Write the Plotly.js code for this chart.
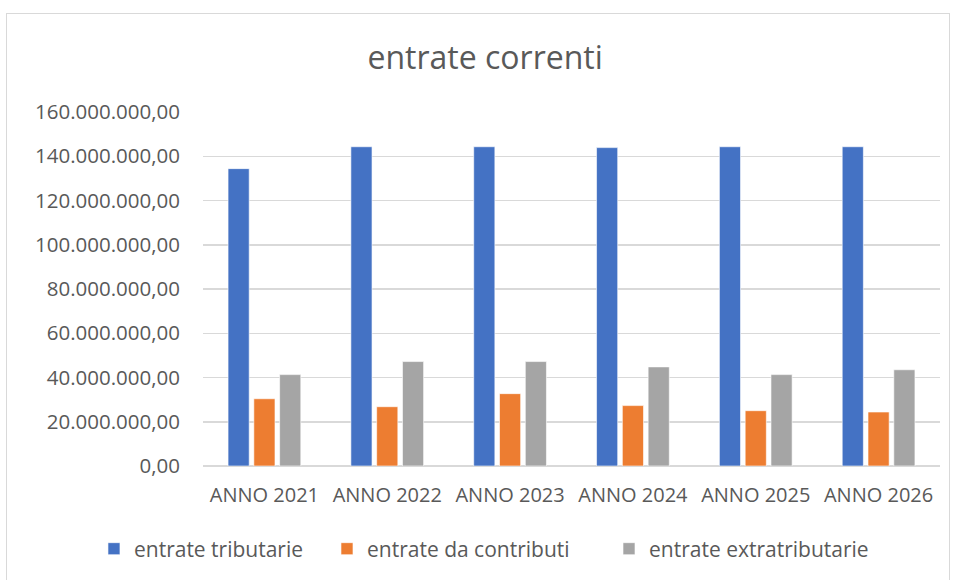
<!DOCTYPE html>
<html>
<head>
<meta charset="utf-8">
<script src="https://cdn.plot.ly/plotly-3.0.1.min.js"></script>
<style>
html,body{margin:0;padding:0;background:#fff;}
#frame{position:absolute;left:6px;top:13px;width:944px;height:580px;border:1.5px solid #d9d9d9;box-sizing:border-box;}
#chart{position:absolute;left:0;top:0;width:955px;height:580px;}
</style>
</head>
<body>
<div id="frame"></div>
<div id="chart"></div>
<script>
const categories = ["ANNO 2021","ANNO 2022","ANNO 2023","ANNO 2024","ANNO 2025","ANNO 2026"];
const tributarie = [134400000,144300000,144300000,143900000,144300000,144300000];
const contributi = [30400000,26800000,32700000,27300000,25000000,24400000];
const extratributarie = [41300000,47200000,47200000,44800000,41300000,43500000];
const seriesNames = ["entrate tributarie","entrate da contributi","entrate extratributarie"];
const tickVals = [0,20000000,40000000,60000000,80000000,100000000,120000000,140000000,160000000];

const colors = ["#4472C4","#ED7D31","#A5A5A5"];
const dataSets = [tributarie, contributi, extratributarie];
const legendIds = ['legend','legend2','legend3'];
const legendX = [0.0984, 0.3424, 0.6377];
const traces = dataSets.map((d,i)=>({
  type:'bar', x:categories, y:d, name:seriesNames[i], legend:legendIds[i],
  marker:{color:colors[i], line:{color:'rgba(255,255,255,0.6)', width:1}},
  hoverinfo:'skip'
}));

const layout = {
  width:955, height:580,
  paper_bgcolor:'rgba(0,0,0,0)', plot_bgcolor:'rgba(0,0,0,0)',
  separators:',.',
  margin:{l:203, r:15, t:112, b:114, autoexpand:false},
  font:{family:'"Open Sans", sans-serif', color:'#595959'},
  title:{text:'entrate correnti', x:0.508, xanchor:'center', y:0.9, yanchor:'middle', yref:'container',
         font:{size:32, color:'#595959', family:'"Open Sans", sans-serif'}},
  barmode:'group', bargap:0.37, bargroupgap:0.18,
  xaxis:{type:'category', showgrid:false, zeroline:false, showline:false, ticks:'',
         tickfont:{size:20, color:'#595959'}, ticklabelstandoff:15},
  yaxis:{range:[0,160000000], tickvals:tickVals, tickformat:',.2f', showgrid:true, gridcolor:'#d9d9d9', gridwidth:1.5,
         zeroline:true, zerolinecolor:'#d9d9d9', zerolinewidth:1.5, showline:false, ticks:'',
         tickfont:{size:20.5, color:'#595959'}, ticklabelstandoff:22},
  showlegend:true
};
legendIds.forEach((id,i)=>{
  layout[id] = {orientation:'h', xref:'container', yref:'container', x:legendX[i], xanchor:'left',
                y:0.0534, yanchor:'middle', font:{size:21, color:'#595959'}, itemwidth:30,
                bgcolor:'rgba(0,0,0,0)'};
});
Plotly.newPlot('chart', traces, layout, {displayModeBar:false, staticPlot:true});
</script>
</body>
</html>
